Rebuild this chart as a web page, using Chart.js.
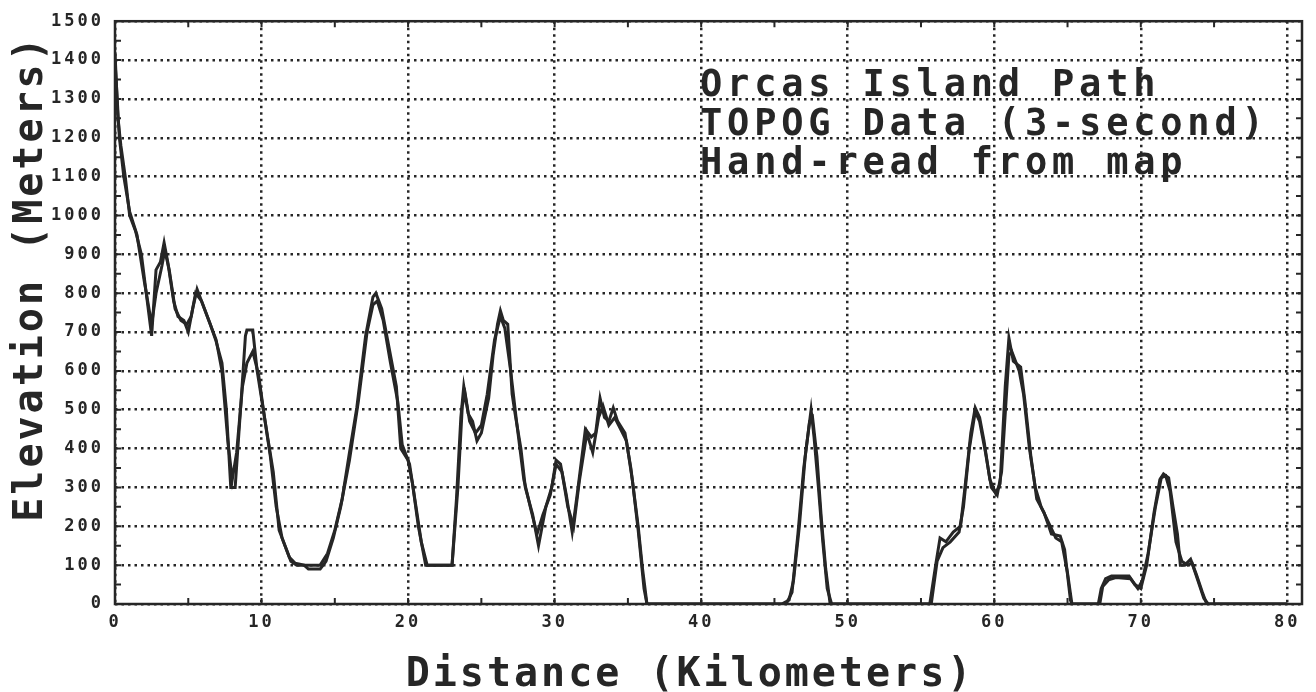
<!DOCTYPE html>
<html>
<head>
<meta charset="utf-8">
<script src="https://cdn.jsdelivr.net/npm/chart.js@4.4.1/dist/chart.umd.min.js"></script>
<style>
  html, body { margin: 0; padding: 0; background: #fff; }
  #wrap { width: 1316px; height: 692px; }
</style>
</head>
<body>
<div id="wrap"><canvas id="profile"></canvas></div>
<script>
// TOPOG 3-second profile: distance (km) and elevation (m)
const topogKm = [0, 0.2, 0.4, 0.7, 1.0, 1.4, 1.8, 2.2, 2.5, 2.8, 3.1, 3.35, 3.6, 4.0, 4.3, 4.7, 5.0, 5.3, 5.6, 6.0,
  6.5, 6.9, 7.3, 7.6, 7.9, 8.2, 8.6, 8.9, 9.0, 9.4, 9.7, 10.1, 10.5, 10.8, 11.2, 11.6, 12.0, 12.4, 13.0, 14.0,
  14.5, 15.0, 15.5, 16.0, 16.5, 17.1, 17.6, 17.8, 18.2, 18.6, 19.2, 19.5, 20.0, 20.3, 20.7, 21.2, 23.0, 23.3, 23.6, 23.8,
  24.1, 24.4, 24.7, 25.0, 25.5, 25.8, 26.1, 26.3, 26.5, 26.8, 27.1, 27.3, 27.7, 28.0, 28.5, 28.9, 29.2, 29.4, 29.8, 30.1,
  30.4, 30.8, 31.2, 31.6, 32.1, 32.5, 32.8, 33.1, 33.4, 33.7, 34.0, 34.3, 34.8, 35.2, 35.7, 36.0, 36.3, 45.5, 46.0, 46.3,
  46.7, 47.1, 47.5, 47.7, 48.0, 48.3, 48.6, 48.9, 55.6, 56.0, 56.3, 56.7, 57.2, 57.7, 58.0, 58.4, 58.7, 59.0, 59.3, 59.7,
  60.1, 60.4, 60.75, 61.0, 61.3, 61.8, 62.1, 62.5, 62.9, 63.4, 63.9, 64.5, 64.8, 65.2, 65.3, 67.1, 67.3, 67.6, 68.0, 69.2,
  69.6, 70.0, 70.4, 70.9, 71.3, 71.55, 71.9, 72.2, 72.5, 72.7, 73.0, 73.4, 73.8, 74.2, 74.5, 80];
const topogM = [1420, 1250, 1180, 1100, 1000, 960, 900, 780, 690, 860, 880, 930, 880, 780, 740, 730, 700, 760, 810, 770,
  720, 676, 620, 500, 300, 300, 520, 690, 705, 705, 600, 505, 410, 340, 190, 150, 110, 100, 100, 100,
  130, 190, 270, 390, 505, 690, 790, 800, 760, 680, 560, 400, 370, 310, 200, 100, 100, 270, 480, 560,
  490, 470, 420, 440, 530, 640, 720, 755, 730, 720, 540, 490, 400, 300, 230, 150, 210, 250, 300, 370,
  360, 280, 185, 300, 450, 430, 440, 530, 480, 470, 505, 470, 440, 350, 200, 90, 0, 0, 10, 60,
  200, 380, 500, 430, 300, 160, 40, 0, 0, 100, 170, 160, 185, 200, 300, 440, 505, 480, 420, 320,
  285, 310, 560, 685, 625, 610, 520, 380, 270, 235, 180, 175, 140, 10, 0, 0, 40, 65, 72, 72,
  50, 40, 100, 235, 320, 335, 325, 250, 180, 100, 100, 115, 75, 30, 0, 0];

const handKm = [0, 0.3, 0.6, 1.0, 1.5, 2.0, 2.5, 2.8, 3.2, 3.4, 3.7, 4.1, 4.5, 4.9, 5.2, 5.5, 5.9, 6.4, 6.9, 7.3,
  7.7, 8.0, 8.3, 8.7, 9.0, 9.4, 9.8, 10.2, 10.6, 11.0, 11.4, 11.9, 12.3, 12.9, 13.2, 14.0, 14.4, 14.9, 15.4, 16.0,
  16.6, 17.2, 17.6, 17.9, 18.3, 18.8, 19.3, 19.6, 20.1, 20.5, 20.9, 21.3, 23.0, 23.4, 23.7, 23.9, 24.2, 24.6, 25.0, 25.4,
  25.9, 26.3, 26.6, 27.0, 27.4, 27.9, 28.4, 28.8, 29.2, 29.7, 30.1, 30.5, 30.9, 31.3, 31.7, 32.2, 32.6, 33.0, 33.3, 33.7,
  34.1, 34.5, 34.9, 35.3, 35.7, 36.1, 36.3, 45.8, 46.2, 46.6, 47.0, 47.4, 47.6, 47.9, 48.2, 48.5, 48.8, 55.7, 56.1, 56.5,
  57.0, 57.6, 57.9, 58.3, 58.7, 59.0, 59.4, 59.8, 60.2, 60.5, 60.8, 61.0, 61.2, 61.7, 62.0, 62.4, 62.8, 63.2, 63.7, 64.2,
  64.6, 65.0, 65.3, 67.2, 67.4, 67.8, 68.3, 69.3, 69.8, 70.1, 70.5, 71.0, 71.4, 71.7, 72.0, 72.4, 72.8, 73.2, 73.5, 73.9,
  74.3, 74.6, 80];
const handM = [1400, 1200, 1100, 1010, 950, 830, 720, 800, 870, 910, 860, 760, 730, 720, 740, 800, 780, 730, 680, 600,
  420, 320, 390, 560, 620, 650, 590, 480, 380, 250, 170, 120, 105, 100, 90, 90, 110, 170, 250, 370,
  520, 700, 770, 780, 730, 620, 520, 410, 360, 260, 160, 100, 100, 300, 510, 540, 470, 440, 460, 540,
  680, 740, 710, 600, 470, 320, 240, 180, 230, 280, 360, 340, 250, 200, 320, 440, 390, 480, 510, 460,
  480, 450, 420, 320, 190, 40, 0, 0, 30, 180, 350, 470, 480, 380, 220, 90, 0, 0, 110, 145,
  160, 185, 250, 400, 495, 470, 390, 300, 280, 340, 520, 640, 650, 600, 540, 400, 300, 250, 210, 170,
  160, 80, 0, 0, 45, 62, 68, 65, 40, 60, 130, 250, 325, 330, 290, 160, 110, 100, 105, 60,
  15, 0, 0];

const xTicks = [0, 10, 20, 30, 40, 50, 60, 70, 80];
const yTicks = [0, 100, 200, 300, 400, 500, 600, 700, 800, 900, 1000, 1100, 1200, 1300, 1400, 1500];
const noteLines = ['Orcas Island Path', 'TOPOG Data (3-second)', 'Hand-read from map'];

const mono = '"DejaVu Sans Mono", "Liberation Mono", monospace';
const ink = '#262626';

const toPoints = (xs, ys) => xs.map((v, i) => ({ x: v, y: ys[i] }));

// box, minor ticks, axis titles and the note block
const plotFrame = {
  id: 'plotFrame',
  beforeDraw(chart) {
    chart.ctx.letterSpacing = '3px'; // tick labels
  },
  beforeDatasetsDraw(chart) {
    chart.ctx.letterSpacing = '0px';
  },
  afterDraw(chart) {
    const { ctx, chartArea: { left, right, top, bottom }, scales: { x, y } } = chart;
    ctx.save();
    ctx.strokeStyle = ink;
    ctx.lineWidth = 2.5;
    ctx.strokeRect(left, top, right - left, bottom - top);

    ctx.lineWidth = 2;
    ctx.beginPath();
    for (let km = 5; km < 80; km += 5) {
      const px = x.getPixelForValue(km);
      ctx.moveTo(px, bottom); ctx.lineTo(px, bottom - 6);
      ctx.moveTo(px, top); ctx.lineTo(px, top + 6);
    }
    for (let m = 50; m < 1500; m += 50) {
      const py = y.getPixelForValue(m);
      ctx.moveTo(left, py); ctx.lineTo(left + 6, py);
      ctx.moveTo(right, py); ctx.lineTo(right - 6, py);
    }
    ctx.stroke();

    ctx.fillStyle = ink;
    ctx.font = 'bold 40px ' + mono;
    ctx.letterSpacing = '3px';
    ctx.textAlign = 'center';
    ctx.textBaseline = 'alphabetic';
    ctx.fillText('Distance (Kilometers)', 690, 686);

    ctx.save();
    ctx.translate(42, 278);
    ctx.rotate(-Math.PI / 2);
    ctx.fillText('Elevation (Meters)', 0, 0);
    ctx.restore();

    ctx.font = 'bold 37px ' + mono;
    ctx.letterSpacing = '4.8px';
    ctx.textAlign = 'left';
    noteLines.forEach((t, i) => {
      ctx.fillText(t, 700, y.getPixelForValue(1300 - i * 100) - 3);
    });
    ctx.restore();
  }
};

new Chart(document.getElementById('profile'), {
  type: 'line',
  data: {
    datasets: [
      {
        label: 'TOPOG Data (3-second)',
        data: toPoints(topogKm, topogM),
        borderColor: ink,
        borderWidth: 3,
        pointRadius: 0,
        tension: 0,
        fill: false
      },
      {
        label: 'Hand-read from map',
        data: toPoints(handKm, handM),
        borderColor: ink,
        borderWidth: 3,
        pointRadius: 0,
        tension: 0,
        fill: false
      }
    ]
  },
  options: {
    responsive: true,
    maintainAspectRatio: false,
    animation: false,
    layout: { padding: { left: 0, top: 15, right: 14, bottom: 0 } },
    plugins: { legend: { display: false }, tooltip: { enabled: false } },
    scales: {
      x: {
        type: 'linear',
        min: 0,
        max: 81,
        afterBuildTicks(axis) { axis.ticks = xTicks.map(v => ({ value: v })); },
        afterFit(axis) { axis.height = 88; },
        grid: { color: ink, lineWidth: 2.5, drawTicks: false },
        border: { display: false, dash: [2.5, 4] },
        ticks: {
          color: ink,
          padding: 8,
          maxRotation: 0,
          callback: v => String(v),
          font: { family: mono, size: 17, weight: 'bold' }
        }
      },
      y: {
        min: 0,
        max: 1500,
        afterBuildTicks(axis) { axis.ticks = yTicks.map(v => ({ value: v })); },
        afterFit(axis) { axis.width = 115; },
        grid: { color: ink, lineWidth: 2.5, drawTicks: false },
        border: { display: false, dash: [2.5, 4] },
        ticks: {
          color: ink,
          padding: 11,
          callback: v => String(v),
          font: { family: mono, size: 17, weight: 'bold' }
        }
      }
    }
  },
  plugins: [plotFrame]
});
</script>
</body>
</html>
